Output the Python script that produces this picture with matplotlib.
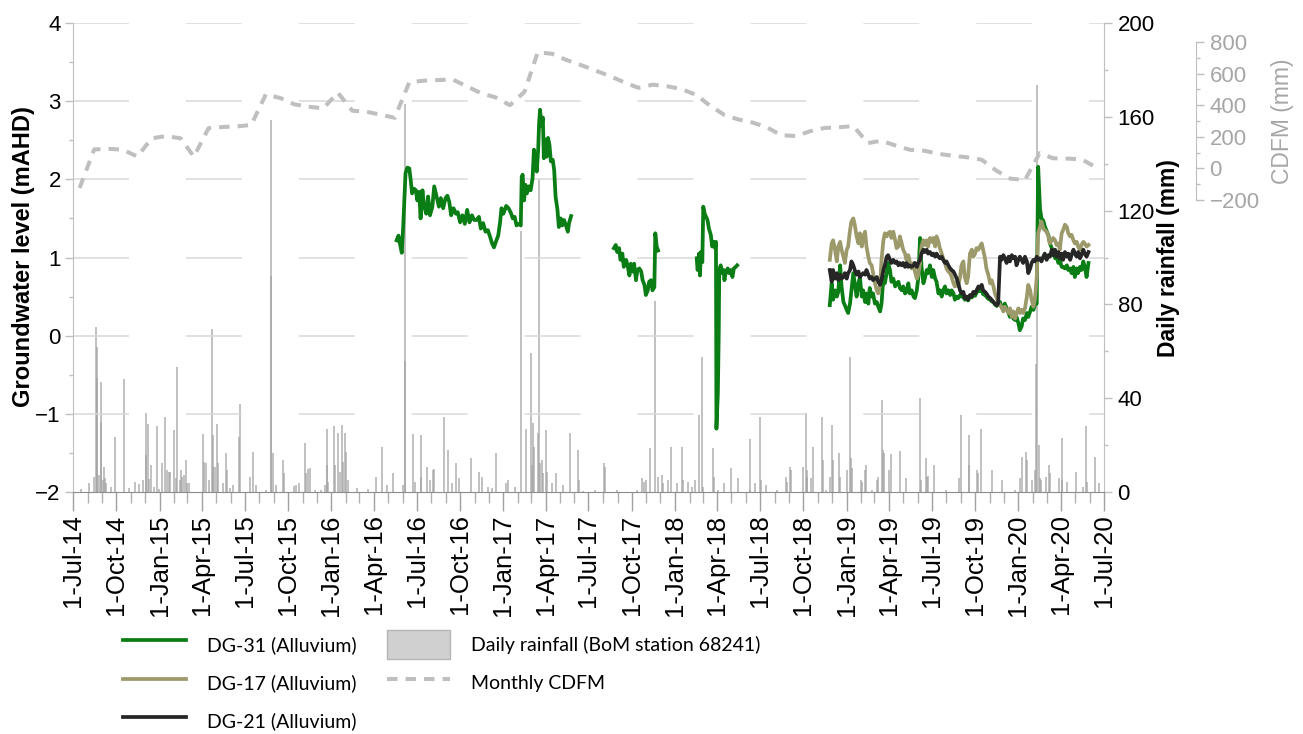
import numpy as np
import pandas as pd
import matplotlib
matplotlib.use("Agg")
import matplotlib.pyplot as plt
import matplotlib.dates as mdates
from matplotlib.ticker import MultipleLocator, FuncFormatter
from matplotlib.lines import Line2D
from matplotlib.patches import Patch

plt.rcParams["font.family"] = ["Liberation Sans", "DejaVu Sans"]

# ---------------------------------------------------------------------------
# Data
# ---------------------------------------------------------------------------
RECORD_START = pd.Timestamp("2014-07-01")   # groundwater times are days since this date
X_START, X_END = pd.Timestamp("2014-07-01"), pd.Timestamp("2020-07-01")

# Daily rainfall, BoM station 68241 (mm)
rain_dates = [
    "2014-07-18", "2014-08-03", "2014-08-15", "2014-08-19", "2014-08-20", "2014-08-21", "2014-08-26",
    "2014-08-29", "2014-08-30", "2014-09-02", "2014-09-05", "2014-09-07", "2014-09-09", "2014-09-19",
    "2014-09-28", "2014-10-17", "2014-10-28", "2014-11-09", "2014-11-19", "2014-11-27", "2014-12-03",
    "2014-12-04", "2014-12-07", "2014-12-10", "2014-12-14", "2014-12-20", "2014-12-27", "2014-12-30",
    "2015-01-07", "2015-01-13", "2015-01-16", "2015-01-21", "2015-01-24", "2015-01-31", "2015-02-04",
    "2015-02-07", "2015-02-13", "2015-02-16", "2015-02-18", "2015-02-22", "2015-02-27", "2015-03-01",
    "2015-03-05", "2015-04-04", "2015-04-06", "2015-04-09", "2015-04-16", "2015-04-22", "2015-04-24",
    "2015-04-25", "2015-04-29", "2015-05-03", "2015-05-05", "2015-05-16", "2015-05-23", "2015-05-25",
    "2015-05-30", "2015-06-06", "2015-06-19", "2015-06-21", "2015-07-13", "2015-07-19", "2015-07-25",
    "2015-08-16", "2015-08-26", "2015-08-27", "2015-08-30", "2015-09-05", "2015-09-21", "2015-09-22",
    "2015-10-13", "2015-10-19", "2015-10-24", "2015-11-06", "2015-11-08", "2015-11-12", "2015-11-16",
    "2015-11-27", "2015-12-11", "2015-12-18", "2015-12-22", "2015-12-24", "2015-12-26",
    "2016-01-07", "2016-01-09", "2016-01-16", "2016-01-19", "2016-01-23", "2016-01-26", "2016-01-30",
    "2016-02-02", "2016-02-05", "2016-02-24", "2016-03-19", "2016-04-06", "2016-04-19", "2016-04-28",
    "2016-05-12", "2016-06-02", "2016-06-05", "2016-06-06", "2016-06-22", "2016-06-27", "2016-07-09",
    "2016-07-10", "2016-07-22", "2016-07-29", "2016-08-05", "2016-08-07", "2016-08-27", "2016-09-05",
    "2016-09-14", "2016-09-22", "2016-09-28", "2016-10-25", "2016-11-11", "2016-11-16", "2016-11-30",
    "2016-12-07", "2016-12-17",
    "2017-01-06", "2017-01-11", "2017-01-25", "2017-02-08", "2017-02-19", "2017-02-28", "2017-03-02",
    "2017-03-05", "2017-03-07", "2017-03-15", "2017-03-18", "2017-03-20", "2017-03-24", "2017-03-26",
    "2017-04-01", "2017-04-03", "2017-04-15", "2017-04-22", "2017-05-07", "2017-05-22", "2017-06-09",
    "2017-06-11", "2017-06-20", "2017-07-15", "2017-08-04", "2017-08-06", "2017-08-30", "2017-10-12",
    "2017-10-23", "2017-10-28", "2017-11-01", "2017-11-08", "2017-11-19", "2017-11-26", "2017-12-04",
    "2017-12-07", "2017-12-17", "2017-12-24",
    "2018-01-06", "2018-01-15", "2018-01-17", "2018-01-29", "2018-02-05", "2018-02-12", "2018-02-21",
    "2018-02-28", "2018-03-02", "2018-03-23", "2018-03-24", "2018-04-03", "2018-04-15", "2018-05-01",
    "2018-05-15", "2018-06-09", "2018-06-10", "2018-06-20", "2018-07-01", "2018-07-02", "2018-07-14",
    "2018-08-05", "2018-08-25", "2018-08-27", "2018-09-03", "2018-09-05", "2018-09-29", "2018-10-06",
    "2018-10-08", "2018-10-09", "2018-10-16", "2018-10-21", "2018-11-10", "2018-11-11", "2018-11-18",
    "2018-11-26", "2018-12-01", "2018-12-02", "2018-12-16", "2018-12-18",
    "2019-01-01", "2019-01-08", "2019-01-10", "2019-01-12", "2019-01-31", "2019-02-02", "2019-02-09",
    "2019-02-11", "2019-02-23", "2019-03-06", "2019-03-08", "2019-03-18", "2019-03-19", "2019-03-21",
    "2019-04-01", "2019-04-06", "2019-04-24", "2019-05-08", "2019-06-05", "2019-06-07", "2019-06-18",
    "2019-06-21", "2019-06-23", "2019-07-06", "2019-08-01", "2019-08-28", "2019-08-31", "2019-09-18",
    "2019-09-19", "2019-10-06", "2019-10-08", "2019-10-13", "2019-11-06", "2019-11-27", "2019-12-24",
    "2020-01-04", "2020-01-09", "2020-01-17", "2020-01-19", "2020-01-29", "2020-02-05", "2020-02-08",
    "2020-02-09", "2020-02-14", "2020-02-16", "2020-02-18", "2020-02-28", "2020-03-06", "2020-03-08",
    "2020-03-28", "2020-04-02", "2020-04-03", "2020-04-13", "2020-05-02", "2020-05-18", "2020-05-23",
    "2020-05-25", "2020-06-11", "2020-06-20",
]
rain_mm = [
    1.1, 3.7, 6.5, 70.2, 62.0, 48.5, 7.2,
    47.0, 30.0, 5.1, 10.8, 5.8, 3.7, 2.3,
    23.3, 48.2, 1.6, 4.3, 3.4, 5.1, 33.5,
    15.8, 28.9, 5.7, 11.5, 2.3, 28.1, 1.3,
    12.2, 32.1, 9.4, 8.7, 8.7, 26.4, 5.8,
    53.4, 5.1, 9.4, 6.5, 7.2, 13.6, 3.7,
    4.0, 24.7, 12.9, 12.2, 5.1, 69.4, 24.3,
    10.8, 10.8, 28.9, 12.2, 3.7, 16.5, 9.4,
    1.6, 3.0, 23.6, 37.5, 6.5, 17.2, 3.0,
    0.9, 92.0, 158.5, 16.5, 3.0, 13.6, 8.0,
    2.6, 3.0, 3.7, 20.8, 8.0, 9.8, 10.1,
    0.9, 0.9, 3.0, 26.9, 11.5, 4.4,
    28.3, 11.5, 25.0, 8.7, 28.6, 12.9, 25.0,
    17.2, 5.1, 1.6, 1.1, 6.5, 19.0, 3.0,
    8.0, 3.0, 56.0, 165.3, 24.7, 4.4, 24.3,
    6.5, 10.8, 5.1, 9.4, 10.0, 32.1, 17.9,
    3.7, 12.5, 5.8, 14.4, 8.7, 6.5, 2.3,
    1.6, 16.5,
    3.7, 5.1, 2.3, 111.3, 26.7, 59.1, 11.5,
    29.3, 19.3, 25.0, 133.5, 12.2, 13.6, 8.0,
    26.4, 8.7, 3.7, 8.0, 3.0, 25.0, 17.9,
    5.1, 0.6, 0.9, 12.2, 10.8, 0.9, 0.9,
    5.8, 4.4, 5.1, 18.6, 81.6, 6.5, 7.2,
    3.7, 5.1, 19.3,
    3.7, 19.3, 5.1, 4.4, 2.3, 5.1, 32.8,
    57.4, 2.3, 18.6, 6.5, 0.9, 3.7, 10.1,
    5.8, 22.5, 0.9, 3.7, 31.8, 5.1, 3.0,
    0.9, 6.5, 4.4, 10.8, 9.4, 10.8, 33.5,
    9.4, 6.5, 5.8, 19.3, 31.8, 13.6, 0.9,
    6.5, 28.6, 13.6, 16.8, 6.5,
    9.4, 57.4, 14.4, 10.1, 5.1, 4.4, 9.4,
    11.5, 0.9, 5.1, 6.5, 39.2, 17.9, 16.5,
    9.4, 16.2, 17.6, 5.8, 40.0, 5.1, 14.4,
    6.5, 6.8, 11.5, 0.9, 5.8, 32.8, 24.3,
    11.5, 9.4, 8.0, 26.9, 9.4, 5.1, 0.9,
    5.8, 15.1, 17.2, 13.6, 5.1, 9.4, 54.5,
    173.6, 20.0, 5.8, 5.1, 6.5, 11.5, 8.0,
    5.8, 22.9, 5.1, 4.4, 8.4, 2.3, 28.1,
    4.4, 14.8, 3.7,
]

# Monthly cumulative deviation from mean rainfall (mm), mid-month, Jul 2014 - Jun 2020
cdfm_mm = [
    -124, 120, 124, 118, 75, 190, 205, 190, 74, 254, 262, 266,
    275, 469, 445, 405, 390, 380, 480, 365, 359, 340, 320, 545,
    555, 559, 563, 520, 475, 450, 400, 485, 735, 725, 686, 654,
    620, 585, 545, 510, 530, 520, 502, 465, 400, 340, 310, 290,
    260, 210, 205, 235, 256, 260, 268, 160, 175, 145, 118, 112,
    92, 80, 70, 55, -14, -65, -73, 96, 64, 62, 57, 5,
]

# DG-31 (Alluvium) groundwater level, mAHD -- logged in separate periods
dg31_days_2016 = [
    688, 692, 695, 699, 702, 707, 711, 715, 718, 721, 725, 729, 732, 736, 739, 743,
    746, 751, 755, 759, 764, 768, 773, 778, 782, 787, 792, 796, 800, 804, 809, 814,
    818, 823, 828, 833, 838, 843, 848, 853, 858, 863, 867, 872, 877, 882, 887, 891,
    895, 899, 904, 908, 911, 915, 921, 926, 931, 935, 939, 943, 948, 952, 954, 956,
    959, 962, 965, 969, 973, 977, 980, 983, 986, 989, 991, 993, 996, 999, 1001, 1004,
    1007, 1010, 1013, 1016, 1020, 1023, 1026, 1030, 1033, 1037, 1040, 1044, 1048, 1052, 1055, 1059,
]
dg31_level_2016 = [
    1.22, 1.28, 1.18, 1.06, 1.39, 2.08, 2.15, 2.14, 1.99, 1.82, 1.88, 1.86, 1.73, 1.84, 1.50, 1.86,
    1.67, 1.56, 1.78, 1.54, 1.65, 1.91, 1.78, 1.65, 1.76, 1.63, 1.76, 1.79, 1.71, 1.54, 1.63, 1.56,
    1.58, 1.45, 1.54, 1.43, 1.61, 1.45, 1.54, 1.48, 1.48, 1.52, 1.37, 1.44, 1.33, 1.35, 1.26, 1.18,
    1.13, 1.20, 1.28, 1.45, 1.63, 1.56, 1.66, 1.63, 1.57, 1.50, 1.52, 1.41, 1.43, 1.41, 2.03, 2.06,
    1.73, 1.93, 1.82, 1.91, 1.86, 2.01, 2.38, 2.27, 2.10, 2.38, 2.72, 2.89, 2.68, 2.79, 2.27, 2.51,
    2.29, 2.53, 2.44, 2.23, 2.25, 2.12, 1.78, 1.61, 1.39, 1.50, 1.41, 1.48, 1.41, 1.33, 1.45, 1.53,
]
dg31_days_2017 = [
    1150, 1154, 1157, 1161, 1164, 1168, 1171, 1176, 1179, 1183, 1186, 1190, 1193, 1197,
    1200, 1204, 1208, 1211, 1215, 1218, 1222, 1225, 1229, 1232, 1236, 1238, 1241, 1244,
]
dg31_level_2017 = [
    1.12, 1.16, 1.07, 1.12, 0.97, 1.05, 0.88, 0.97, 0.90, 0.77, 0.92, 0.82, 0.92, 0.71,
    0.84, 0.86, 0.82, 0.71, 0.65, 0.52, 0.58, 0.69, 0.71, 0.58, 0.62, 1.31, 1.14, 1.09,
]
dg31_days_2018 = [
    1326, 1328, 1331, 1333, 1335, 1338, 1340, 1343, 1346, 1349, 1352, 1356, 1359, 1362, 1365, 1367,
    1368, 1371, 1373, 1374, 1377, 1380, 1383, 1385, 1388, 1392, 1395, 1399, 1402, 1405, 1409, 1412,
]
dg31_level_2018 = [
    0.99, 0.84, 1.05, 0.77, 1.07, 0.94, 1.65, 1.56, 1.52, 1.48, 1.37, 1.29, 1.14, 1.20, 1.12, 1.20,
    -1.19, -0.74, 0.07, 0.84, 0.90, 0.80, 0.84, 0.71, 0.82, 0.86, 0.80, 0.84, 0.75, 0.86, 0.88, 0.90,
]

# Common logging times for the Nov 2018 - Jun 2020 period (DG-31, DG-17, DG-21)
days_2019 = [
    1609, 1613, 1616, 1620, 1624, 1627, 1631, 1634, 1638, 1641, 1645, 1648, 1652, 1655, 1659, 1662,
    1666, 1670, 1673, 1677, 1680, 1684, 1687, 1691, 1694, 1698, 1701, 1705, 1709, 1712, 1716, 1719,
    1723, 1726, 1730, 1733, 1737, 1740, 1744, 1748, 1751, 1755, 1758, 1762, 1765, 1769, 1772, 1776,
    1779, 1783, 1787, 1790, 1794, 1797, 1801, 1804, 1808, 1811, 1815, 1818, 1822, 1826, 1829, 1833,
    1836, 1840, 1843, 1847, 1850, 1854, 1857, 1861, 1865, 1868, 1872, 1875, 1879, 1882, 1886, 1889,
    1893, 1896, 1900, 1903, 1907, 1911, 1914, 1918, 1921, 1925, 1928, 1932, 1935, 1939, 1942, 1946,
    1950, 1953, 1957, 1960, 1964, 1967, 1971, 1974, 1978, 1981, 1985, 1989, 1992, 1996, 1999, 2003,
    2006, 2010, 2013, 2017, 2020, 2024, 2028, 2031, 2035, 2038, 2042, 2045, 2049, 2052, 2056, 2059,
    2063, 2066, 2070, 2074, 2077, 2081, 2084, 2088, 2091, 2095, 2098, 2102, 2105, 2109, 2113, 2116,
    2120, 2123, 2127, 2130, 2134, 2137, 2141, 2144, 2148, 2151, 2155, 2159,
]
dg31_level_2019 = [
    0.39, 0.67, 0.46, 0.58, 0.50, 0.56, 0.90, 0.63, 0.43, 0.39, 0.33, 0.29, 0.41, 0.58, 0.80, 0.67,
    0.50, 0.67, 0.75, 0.50, 0.58, 0.43, 0.54, 0.41, 0.61, 0.50, 0.54, 0.41, 0.43, 0.37, 0.31, 0.41,
    0.75, 0.67, 0.80, 0.93, 0.84, 0.69, 0.73, 0.63, 0.67, 0.69, 0.61, 0.58, 0.63, 0.54, 0.56, 0.67,
    0.54, 0.58, 0.50, 0.48, 0.58, 0.73, 1.25, 0.88, 0.67, 0.73, 0.84, 0.80, 0.90, 0.75, 0.84, 0.73,
    0.69, 0.54, 0.58, 0.50, 0.58, 0.63, 0.54, 0.58, 0.52, 0.58, 0.54, 0.46, 0.50, 0.48, 0.52, 0.50,
    0.50, 0.46, 0.47, 0.45, 0.50, 0.49, 0.52, 0.51, 0.55, 0.58, 0.57, 0.60, 0.53, 0.52, 0.50, 0.47,
    0.46, 0.44, 0.43, 0.40, 0.38, 0.40, 0.43, 0.37, 0.33, 0.41, 0.35, 0.29, 0.24, 0.29, 0.22, 0.20,
    0.24, 0.16, 0.07, 0.12, 0.22, 0.20, 0.29, 0.24, 0.31, 0.37, 0.33, 0.39, 0.41, 2.16, 1.62, 1.50,
    1.47, 1.40, 1.34, 1.28, 1.18, 1.12, 1.06, 0.99, 1.01, 0.93, 0.97, 0.88, 0.88, 0.86, 0.90, 0.84,
    0.86, 0.80, 0.88, 0.75, 0.86, 0.80, 0.88, 0.84, 0.95, 0.88, 0.75, 0.93,
]
# DG-17 (Alluvium) groundwater level, mAHD
dg17_level_2019 = [
    0.97, 1.18, 1.22, 1.10, 0.95, 1.14, 1.20, 1.10, 1.01, 0.93, 1.10, 1.14, 1.35, 1.46, 1.50, 1.42,
    1.27, 1.18, 1.31, 1.14, 1.27, 1.33, 1.14, 1.01, 0.93, 0.90, 0.80, 0.67, 0.58, 0.54, 0.65, 0.97,
    1.22, 1.31, 1.27, 1.31, 1.33, 1.25, 1.33, 1.22, 1.12, 1.14, 1.27, 1.18, 1.10, 1.05, 0.97, 1.03,
    0.95, 0.86, 0.93, 0.82, 0.73, 0.78, 0.93, 1.14, 1.22, 1.16, 1.22, 1.14, 1.25, 1.20, 1.25, 1.14,
    1.27, 1.20, 1.12, 1.05, 0.99, 0.93, 0.86, 0.82, 0.80, 0.75, 0.67, 0.63, 0.69, 0.63, 0.75, 0.90,
    0.95, 0.75, 0.67, 0.75, 1.05, 1.10, 1.01, 1.05, 1.12, 1.10, 1.14, 1.18, 1.10, 0.99, 0.86, 0.78,
    0.67, 0.71, 0.63, 0.54, 0.48, 0.43, 0.39, 0.37, 0.31, 0.37, 0.33, 0.29, 0.35, 0.24, 0.31, 0.22,
    0.29, 0.35, 0.29, 0.33, 0.29, 0.35, 0.50, 0.65, 0.58, 0.46, 0.37, 0.46, 0.75, 1.31, 1.39, 1.46,
    1.37, 1.35, 1.33, 1.27, 1.18, 1.22, 1.25, 1.22, 1.16, 1.18, 1.10, 1.31, 1.35, 1.42, 1.39, 1.31,
    1.27, 1.29, 1.22, 1.18, 1.20, 1.14, 1.10, 1.16, 1.20, 1.18, 1.14, 1.16,
]
# DG-21 (Alluvium) groundwater level, mAHD
dg21_level_2019 = [
    0.84, 0.69, 0.84, 0.73, 0.80, 0.71, 0.78, 0.73, 0.75, 0.80, 0.73, 0.80, 0.84, 0.95, 0.90, 0.84,
    0.78, 0.82, 0.75, 0.78, 0.80, 0.78, 0.84, 0.78, 0.73, 0.75, 0.71, 0.73, 0.75, 0.69, 0.65, 0.71,
    0.84, 0.90, 1.01, 1.03, 0.97, 0.93, 0.97, 0.93, 0.95, 0.90, 0.93, 0.90, 0.93, 0.88, 0.93, 0.88,
    0.90, 0.88, 0.90, 0.93, 0.88, 0.93, 0.97, 1.05, 1.10, 1.07, 1.10, 1.05, 1.07, 1.03, 1.05, 1.01,
    1.05, 1.01, 0.99, 1.01, 0.97, 0.93, 0.95, 0.90, 0.86, 0.84, 0.82, 0.78, 0.73, 0.67, 0.58, 0.54,
    0.56, 0.48, 0.50, 0.46, 0.52, 0.50, 0.56, 0.54, 0.58, 0.63, 0.61, 0.65, 0.58, 0.56, 0.54, 0.50,
    0.48, 0.46, 0.43, 0.41, 0.39, 0.41, 1.01, 0.97, 1.03, 0.99, 0.93, 1.01, 0.95, 1.03, 0.99, 1.01,
    0.90, 0.97, 1.01, 0.97, 0.93, 1.01, 0.95, 0.80, 0.86, 0.93, 0.97, 0.95, 1.01, 0.97, 0.99, 0.95,
    1.01, 1.05, 0.97, 1.03, 1.01, 1.10, 1.03, 1.10, 1.01, 1.07, 0.99, 1.05, 0.97, 1.07, 1.01, 1.05,
    0.97, 1.03, 1.10, 1.05, 1.01, 1.07, 0.99, 1.03, 1.10, 1.05, 1.01, 1.07,
]

# ---------------------------------------------------------------------------
# Styling
# ---------------------------------------------------------------------------
C_DG31 = "#0a7d14"
C_DG17 = "#9c9a6b"
C_DG21 = "#262626"
C_RAIN = "#a3a3a3"
C_CDFM = "#bfbfbf"
C_GRID = "#d9d9d9"
C_AXIS = "#bfbfbf"
YTICK_FS = 16
XTICK_FS = 18.5

W_PX, H_PX = 1303, 734
fig = plt.figure(figsize=(W_PX / 100, H_PX / 100), dpi=100)


def fx(px):
    return px / W_PX


def fy(py):
    return 1 - py / H_PX


# plot area in pixels
PL, PR, PT, PB = 73, 1104, 23, 492
ax = fig.add_axes([fx(PL), fy(PB), fx(PR - PL), (PB - PT) / H_PX])
ax_rain = ax.twinx()
# CDFM axis occupies the upper band of the plot area
CT, CB = 42, 200
ax_cdfm = fig.add_axes([fx(PL), fy(CB), fx(PR - PL), (CB - CT) / H_PX])

ax.set_zorder(3)
ax.patch.set_visible(False)
ax_cdfm.set_zorder(4)
ax_cdfm.patch.set_visible(False)


def seg_dates(days):
    return RECORD_START + pd.to_timedelta(np.asarray(days, dtype=float), unit="D")


def join_segments(pairs):
    xs, ys = [], []
    for d, v in pairs:
        if xs:
            xs.append(pd.NaT)
            ys.append(np.nan)
        xs.extend(list(seg_dates(d)))
        ys.extend(v)
    return pd.DatetimeIndex(xs), np.array(ys, dtype=float)


# ---- rainfall bars
rd = pd.to_datetime(rain_dates)
ax_rain.vlines(rd, 0, rain_mm, color=C_RAIN, lw=1.1, alpha=0.85)
ax_rain.set_ylim(0, 200)

# ---- groundwater
ax.set_ylim(-2, 4)
ax.yaxis.set_major_locator(MultipleLocator(1))
ax.yaxis.set_minor_locator(MultipleLocator(0.5))
# long-dash horizontal gridlines at the major levels
for lev in ax.get_yticks():
    if -2 < lev <= 4:
        ax.axhline(lev, color=C_GRID, lw=1.1, dashes=(36.6, 37.3), zorder=1)

dg31_x, dg31_y = join_segments([
    (dg31_days_2016, dg31_level_2016),
    (dg31_days_2017, dg31_level_2017),
    (dg31_days_2018, dg31_level_2018),
    (days_2019, dg31_level_2019),
])
t19 = seg_dates(days_2019)
ax.plot(dg31_x, dg31_y, color=C_DG31, lw=2.7, solid_joinstyle="round", zorder=3)
ax.plot(t19, dg17_level_2019, color=C_DG17, lw=2.7, solid_joinstyle="round", zorder=4)
ax.plot(t19, dg21_level_2019, color=C_DG21, lw=2.7, solid_joinstyle="round", zorder=5)

# ---- CDFM
cdfm_t = pd.date_range("2014-07-01", periods=len(cdfm_mm), freq="MS") + pd.Timedelta(days=14)
ax_cdfm.plot(cdfm_t, cdfm_mm, color=C_CDFM, lw=2.9, dashes=(2.6, 2.0), dash_capstyle="butt")
ax_cdfm.set_ylim(-200, 800)

for a in (ax, ax_rain, ax_cdfm):
    a.set_xlim(X_START, X_END)

# ---- x axis
ax.xaxis.set_major_locator(mdates.MonthLocator(bymonth=[1, 4, 7, 10]))
ax.xaxis.set_minor_locator(mdates.MonthLocator())
ax.xaxis.set_major_formatter(FuncFormatter(
    lambda v, p: f"{mdates.num2date(v).day}-{mdates.num2date(v):%b-%y}"))
ax.tick_params(axis="x", which="major", length=13.7, width=1, color="#a0a0a0",
               labelsize=XTICK_FS, labelrotation=90, pad=2.5)
ax.tick_params(axis="x", which="minor", length=7.9, width=1, color="#b0b0b0")

# ---- left axis
ax.tick_params(axis="y", which="major", length=5.8, width=1, color=C_AXIS,
               labelsize=YTICK_FS, pad=3)
ax.tick_params(axis="y", which="minor", length=3, width=1, color=C_AXIS)

# ---- rainfall axis
ax_rain.yaxis.set_major_locator(MultipleLocator(40))
ax_rain.yaxis.set_minor_locator(MultipleLocator(20))
ax_rain.tick_params(axis="y", which="major", length=5.8, width=1, color=C_AXIS,
                    labelsize=YTICK_FS, pad=4)
ax_rain.tick_params(axis="y", which="minor", length=3, width=1, color=C_AXIS)

# ---- CDFM axis
ax_cdfm.yaxis.tick_right()
ax_cdfm.spines["right"].set_position(("axes", (1196 - PL) / (PR - PL)))
ax_cdfm.yaxis.set_major_locator(MultipleLocator(200))
ax_cdfm.yaxis.set_minor_locator(MultipleLocator(100))
ax_cdfm.tick_params(axis="y", which="major", length=5.8, width=1, color=C_AXIS,
                    labelsize=YTICK_FS, labelcolor="#a6a6a6", pad=4)
ax_cdfm.tick_params(axis="y", which="minor", length=3, width=1, color=C_AXIS)
ax_cdfm.xaxis.set_visible(False)
for s in ("left", "top", "bottom"):
    ax_cdfm.spines[s].set_visible(False)
ax_cdfm.spines["right"].set_color(C_AXIS)

# ---- spines
for a in (ax, ax_rain):
    a.spines["top"].set_visible(False)
ax.spines["right"].set_visible(False)
ax_rain.spines["left"].set_visible(False)
ax_rain.spines["bottom"].set_visible(False)
ax.spines["left"].set_color(C_AXIS)
ax_rain.spines["right"].set_color(C_AXIS)
ax.spines["bottom"].set_color("#8c8c8c")

# ---- axis titles
fig.text(fx(24), fy(257), "Groundwater level (mAHD)", rotation=90, ha="center", va="center",
         fontsize=17, fontweight="bold")
fig.text(fx(1169), fy(258), "Daily rainfall (mm)", rotation=90, ha="center", va="center",
         fontsize=16.5, fontweight="bold")
fig.text(fx(1282), fy(121), "CDFM (mm)", rotation=90, ha="center", va="center",
         fontsize=16.5, color="#a6a6a6")

# ---- legend
handles = [
    Line2D([], [], color=C_DG31, lw=2.7),
    Line2D([], [], color=C_DG17, lw=2.7),
    Line2D([], [], color=C_DG21, lw=2.7),
    Patch(facecolor="#d0d0d0", edgecolor="#b5b5b5", lw=1),
    Line2D([], [], color=C_CDFM, lw=2.9, dashes=(2.6, 2.0)),
]
labels = ["DG-31 (Alluvium)", "DG-17 (Alluvium)", "DG-21 (Alluvium)",
          "Daily rainfall (BoM station 68241)", "Monthly CDFM"]
fig.legend(handles, labels, loc="upper left", bbox_to_anchor=(fx(123), fy(630)),
           ncol=2, frameon=False, borderpad=0, borderaxespad=0,
           prop={"family": ["Lato", "DejaVu Sans"], "size": 14},
           handlelength=3.25, handleheight=1.95, handletextpad=1.08,
           labelspacing=0.46, columnspacing=1.55)

fig.savefig("out.png", dpi=100)
